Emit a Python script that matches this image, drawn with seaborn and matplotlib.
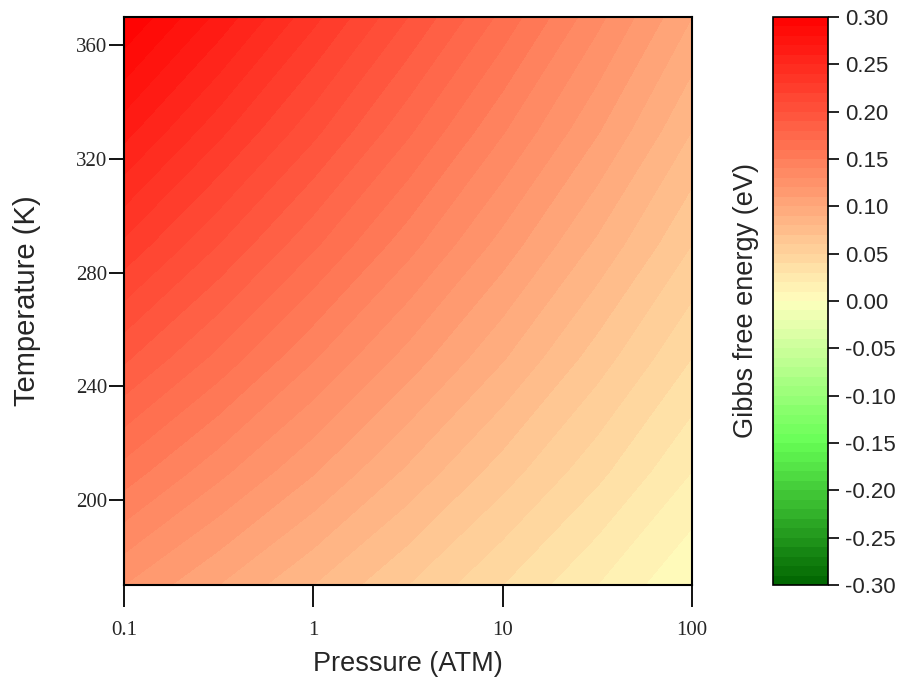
import numpy as np
import matplotlib
matplotlib.use("Agg")
import matplotlib.pyplot as plt
import seaborn as sns

# ---- data ----
pressure = [0.1, 0.316, 1, 3.16, 10, 31.6, 100]          # ATM
temperature = [170, 210, 250, 290, 330, 370]             # K
gibbs_170 = [0.120, 0.100, 0.080, 0.060, 0.040, 0.020, 0.000]
gibbs_210 = [0.156, 0.133, 0.111, 0.088, 0.065, 0.043, 0.020]
gibbs_250 = [0.192, 0.167, 0.141, 0.116, 0.091, 0.065, 0.040]
gibbs_290 = [0.228, 0.200, 0.172, 0.144, 0.116, 0.088, 0.060]
gibbs_330 = [0.264, 0.233, 0.203, 0.172, 0.141, 0.111, 0.080]
gibbs_370 = [0.300, 0.267, 0.233, 0.200, 0.167, 0.133, 0.100]
x_ticks = [0.1, 1, 10, 100]
x_tick_labels = ["0.1", "1", "10", "100"]
y_ticks = [200, 240, 280, 320, 360]
cbar_ticks = [-0.30, -0.25, -0.20, -0.15, -0.10, -0.05, 0.00,
              0.05, 0.10, 0.15, 0.20, 0.25, 0.30]

sns.set_style("white")
plt.rcParams["axes.unicode_minus"] = False
plt.rcParams["font.family"] = ["Liberation Sans", "DejaVu Sans"]

G = np.array([gibbs_170, gibbs_210, gibbs_250, gibbs_290, gibbs_330, gibbs_370])
logP = np.log10(pressure)
X, Y = np.meshgrid(logP, temperature)

cmap = sns.blend_palette(["#006400", "#66ff55", "#ffffbe", "#ff7d5a", "#ff0000"],
                         as_cmap=True)
levels = np.linspace(-0.3, 0.3, 61)

fig = plt.figure(figsize=(8.99, 6.79), dpi=100)
ax = fig.add_axes([124/899, 1-585/679, (692-124)/899, (585-17)/679])
cf = ax.contourf(X, Y, G, levels=levels, cmap=cmap, vmin=-0.3, vmax=0.3)

ax.set_xlim(-1, 2)
ax.set_ylim(170, 370)
ax.set_xticks(np.log10(x_ticks))
ax.set_xticklabels(x_tick_labels)
ax.set_yticks(y_ticks)
for lab in ax.get_xticklabels() + ax.get_yticklabels():
    lab.set_family(["Liberation Serif", "DejaVu Serif"])
    lab.set_fontsize(15)
ax.tick_params(axis="x", bottom=True, direction="out", length=16, width=1.3,
               pad=10, color="black")
ax.tick_params(axis="y", left=True, direction="out", length=11, width=1.3,
               pad=1, color="black")
for sp in ax.spines.values():
    sp.set_color("black")
    sp.set_linewidth(1.5)
ax.set_xlabel("Pressure (ATM)", fontsize=19.5, labelpad=8)
ax.set_ylabel("Temperature (K)", fontsize=21, labelpad=25)

cax = fig.add_axes([773/899, 1-585/679, (828-773)/899, (585-17)/679])
cbar = fig.colorbar(cf, cax=cax, ticks=cbar_ticks)
cbar.ax.set_yticklabels([f"{t:.2f}" for t in cbar_ticks])
cbar.ax.tick_params(right=True, direction="out", length=8, width=1.2,
                    labelsize=16, pad=4, color="black")
cbar.outline.set_linewidth(1.2)
cbar.outline.set_edgecolor("black")
cbar.ax.yaxis.set_label_position("left")
cbar.set_label("Gibbs free energy (eV)", fontsize=19.5, labelpad=10)

fig.savefig("out.png", dpi=100)
